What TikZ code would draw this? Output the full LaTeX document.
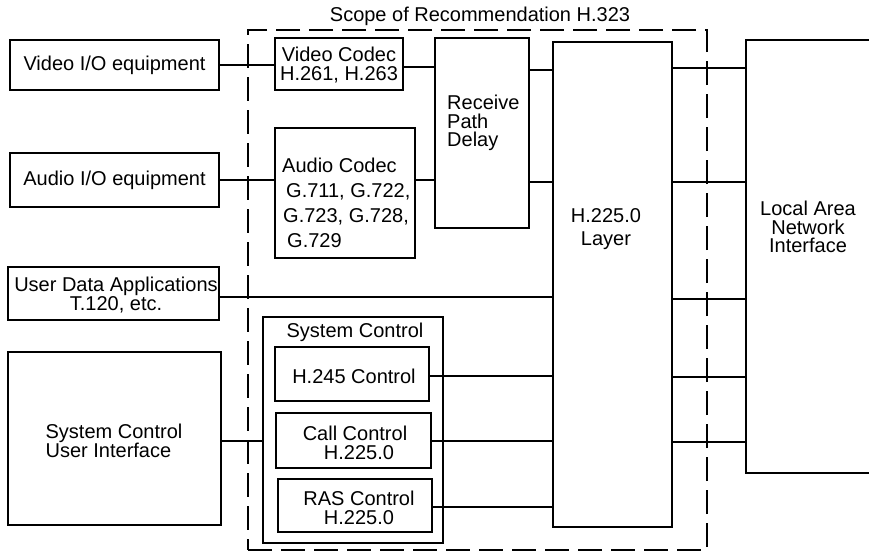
\documentclass[tikz,border=0pt]{standalone}
\usepackage{fontspec}
\setmainfont{Liberation Sans}
\begin{document}
\begin{tikzpicture}[x=1pt,y=-1pt,
  box/.style={draw, line width=1.6pt, inner sep=0pt, font=\fontsize{20}{18.5}\selectfont, align=center},
  wire/.style={line width=1.6pt},
  txt/.style={inner sep=0pt, font=\fontsize{20}{18.5}\selectfont},
  scopeline/.style={draw, line width=1.6pt, dash pattern=on 24pt off 9pt, inner sep=0pt}
]
\useasboundingbox (0,0) rectangle (869,552);
\clip (0,0) rectangle (869,552);

% scope
\node[scopeline, minimum width=459pt, minimum height=520pt] (scope) at (477.5,290) {};
\node[txt] (scopeT) at (480,16) {Scope of Recommendation H.323};

% left column
\node[box, minimum width=209pt, minimum height=50pt] (videoio) at (114.5,65) {Video I/O equipment};
\node[box, minimum width=209pt, minimum height=54pt] (audioio) at (114.5,180) {Audio I/O equipment};
\node[box, minimum width=211pt, minimum height=53pt] (userdata) at (113.5,293.5) {};
\node[txt, align=center] (userdataT) at (116,295) {User Data Applications\\T.120, etc.};
\node[box, minimum width=213pt, minimum height=173pt] (sysui) at (114.5,438.5) {};
\node[txt, align=left] (sysuiT) at (114,441) {System Control\\User Interface};

% codecs
\node[box, minimum width=128pt, minimum height=52pt] (vcodec) at (339,64) {};
\node[txt, align=center] (vcodecT) at (339,65) {Video Codec\\H.261, H.263};
\node[box, minimum width=140pt, minimum height=130pt] (acodec) at (345,193) {};
\node[txt, align=left, font=\fontsize{20}{25}\selectfont, anchor=west] (acodecT) at (282,203)
  {Audio Codec\\\hspace*{4pt}G.711, G.722,\\\hspace*{1pt}G.723, G.728,\\\hspace*{5pt}G.729};

% receive path delay
\node[box, minimum width=94pt, minimum height=190pt] (rpd) at (482,133) {};
\node[txt, align=left, anchor=west] (rpdT) at (447,123) {Receive\\Path\\Delay};

% system control group
\node[box, minimum width=180pt, minimum height=226pt] (sysctrl) at (353,430) {};
\node[txt] (sysctrlT) at (355,332) {System Control};
\node[box, minimum width=154pt, minimum height=54pt] (h245) at (352,374) {};
\node[txt] (h245T) at (354,376) {H.245 Control};
\node[box, minimum width=155pt, minimum height=55pt] (call) at (353.5,440.5) {};
\node[txt, align=center] (callT) at (355,443) {Call Control\\\hspace*{8pt}H.225.0};
\node[box, minimum width=154pt, minimum height=53pt] (ras) at (355,505.5) {};
\node[txt, align=center] (rasT) at (359,508) {RAS Control\\H.225.0};

% H.225.0 layer
\node[box, minimum width=119pt, minimum height=485pt] (h225) at (612.5,284.5) {};
\node[txt, align=center, font=\fontsize{20}{23}\selectfont] (h225T) at (606,229) {H.225.0\\Layer};

% LAN interface
\node[box, minimum width=160pt, minimum height=433pt] (lan) at (826,256.5) {};
\node[txt, align=center] (lanT) at (808,227) {Local Area\\Network\\Interface};

% wires
\draw[wire] (videoio.east |- 0,65) -- (vcodec.west |- 0,65);
\draw[wire] (audioio.east |- 0,180) -- (acodec.west |- 0,180);
\draw[wire] (vcodec.east |- 0,67) -- (rpd.west |- 0,67);
\draw[wire] (acodec.east |- 0,180) -- (rpd.west |- 0,180);
\draw[wire] (rpd.east |- 0,70) -- (h225.west |- 0,70);
\draw[wire] (rpd.east |- 0,182) -- (h225.west |- 0,182);
\draw[wire] (userdata.east |- 0,297) -- (h225.west |- 0,297);
\draw[wire] (sysui.east |- 0,441) -- (sysctrl.west |- 0,441);
\draw[wire] (h245.east |- 0,376) -- (h225.west |- 0,376);
\draw[wire] (call.east |- 0,441) -- (h225.west |- 0,441);
\draw[wire] (ras.east |- 0,507) -- (h225.west |- 0,507);
\draw[wire] (h225.east |- 0,68) -- (lan.west |- 0,68);
\draw[wire] (h225.east |- 0,182) -- (lan.west |- 0,182);
\draw[wire] (h225.east |- 0,299) -- (lan.west |- 0,299);
\draw[wire] (h225.east |- 0,377) -- (lan.west |- 0,377);
\draw[wire] (h225.east |- 0,442) -- (lan.west |- 0,442);
\end{tikzpicture}
\end{document}
